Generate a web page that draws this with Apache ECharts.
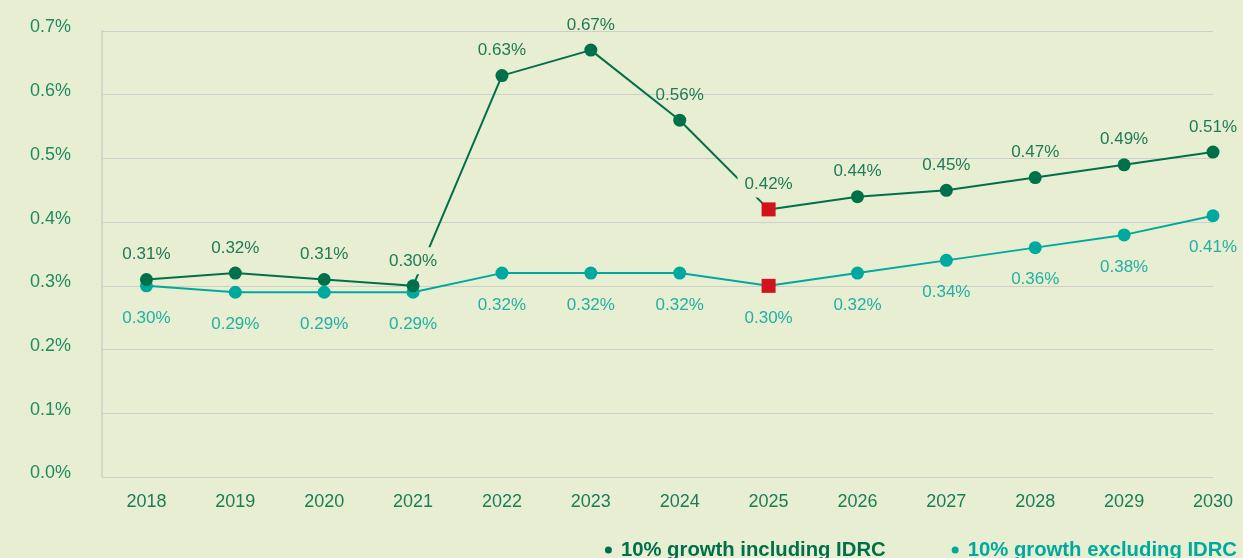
<!DOCTYPE html>
<html>
<head>
<meta charset="utf-8">
<script src="https://cdn.jsdelivr.net/npm/echarts@6/dist/echarts.min.js"></script>
<style>
html,body{margin:0;padding:0;background:#e8eed2;}
#c{width:1243px;height:558px;}
</style>
</head>
<body>
<div id="c"></div>
<script>
const years = [2018,2019,2020,2021,2022,2023,2024,2025,2026,2027,2028,2029,2030];
const includingIDRC = [0.31,0.32,0.31,0.30,0.63,0.67,0.56,0.42,0.44,0.45,0.47,0.49,0.51];
const excludingIDRC = [0.30,0.29,0.29,0.29,0.32,0.32,0.32,0.30,0.32,0.34,0.36,0.38,0.41];
const yTicks = [0,0.1,0.2,0.3,0.4,0.5,0.6,0.7];
const seriesNames = ['10% growth including IDRC','10% growth excluding IDRC'];
const highlightYear = 2025;
const maskedLabelYears = [2021, 2025];

const DARK = '#00704a', TEAL = '#00a99d', RED = '#d2121c', BG = '#e8eed2';
const FONT = '"Liberation Sans", Arial, sans-serif';

function build(vals, masked){
  return years.map((y,i)=>{
    const item = {value:[y, vals[i]]};
    if (y === highlightYear) {
      item.symbol = 'rect'; item.symbolSize = 14; item.itemStyle = {color:RED};
    }
    if (masked && maskedLabelYears.includes(y)) {
      item.label = {backgroundColor: BG};
    }
    return item;
  });
}

const chart = echarts.init(document.getElementById('c'), null, {renderer:'canvas'});
chart.setOption({
  backgroundColor: BG,
  animation: false,
  grid: {left:102, right:30, top:31, bottom:81},
  xAxis: {
    type:'value', min:2017.5, max:2030, interval:0.5,
    axisLine:{show:false}, axisTick:{show:false}, splitLine:{show:false},
    axisLabel:{
      formatter: v => Number.isInteger(v) ? String(v) : '',
      color:'#1d7c58', fontSize:18, fontFamily:FONT, margin:16
    }
  },
  yAxis: {
    type:'value', min:yTicks[0], max:yTicks[yTicks.length-1], interval:0.1,
    axisLine:{show:true, lineStyle:{color:'#cfd1c6', width:1.5}},
    axisTick:{show:false},
    splitLine:{show:true, lineStyle:{color:'#cdcfc8', width:1.2}},
    axisLabel:{
      formatter: v => v.toFixed(1) + '%',
      color:'#1f8a63', fontSize:18, fontFamily:FONT, margin:31,
      verticalAlign:'bottom', lineHeight:7
    }
  },
  legend: {
    top: 535, right: 1, icon:'circle', itemWidth:7, itemHeight:7, itemGap:66,
    textStyle:{fontSize:20.3, fontWeight:'bold', fontFamily:FONT, padding:[0,0,0,4]},
    data:[
      {name:seriesNames[0], textStyle:{color:DARK}},
      {name:seriesNames[1], textStyle:{color:TEAL}}
    ]
  },
  series: [
    {
      name:seriesNames[0], type:'line', data:build(includingIDRC, true),
      symbol:'circle', symbolSize:13, color:DARK,
      lineStyle:{color:DARK, width:2}, itemStyle:{color:DARK},
      z:3,
      label:{show:true, position:'top', distance:5,
        formatter: p => p.value[1].toFixed(2) + '%',
        color:'#1f7a57', fontSize:17, fontFamily:FONT,
        padding:[5,7]}
    },
    {
      name:seriesNames[1], type:'line', data:build(excludingIDRC, false),
      symbol:'circle', symbolSize:13, color:TEAL,
      lineStyle:{color:TEAL, width:2}, itemStyle:{color:TEAL},
      z:2,
      label:{show:true, position:'bottom', distance:12,
        formatter: p => p.value[1].toFixed(2) + '%',
        color:'#22b0a2', fontSize:17, fontFamily:FONT,
        padding:[5,7]}
    }
  ]
});
</script>
</body>
</html>
